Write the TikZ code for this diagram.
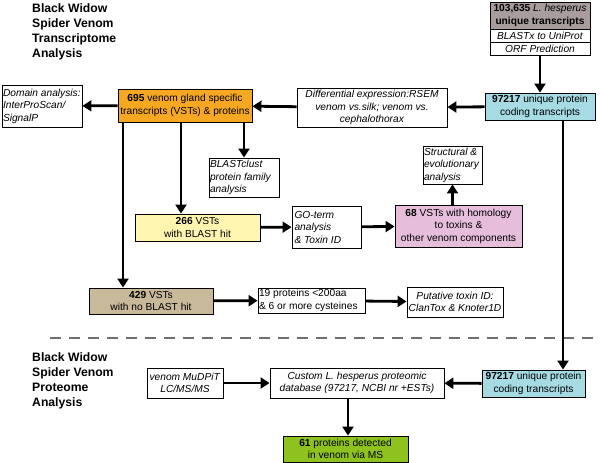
\documentclass[tikz,border=0pt]{standalone}
\usepackage{fontspec}
\setmainfont{Liberation Sans}
\usepackage{tikz}
\usetikzlibrary{arrows.meta}
\definecolor{greybox}{RGB}{168,156,156}
\definecolor{cyanbox}{RGB}{166,219,227}
\definecolor{orangebox}{RGB}{247,168,35}
\definecolor{yellowbox}{RGB}{255,244,176}
\definecolor{pinkbox}{RGB}{230,190,220}
\definecolor{tanbox}{RGB}{201,185,155}
\definecolor{greenbox}{RGB}{141,194,31}
\definecolor{dashgrey}{RGB}{110,110,110}

\begin{document}
\begin{tikzpicture}[x=1pt,y=-1pt,
    box/.style={draw,line width=0.9pt,inner sep=1pt,align=center,
        font=\fontsize{10.2}{12.5}\selectfont},
    lbox/.style={box,align=flush left},
    arr/.style={line width=2.8pt,-{Triangle[length=9pt,width=11pt]}},
    ttl/.style={anchor=north west,align=left,inner sep=0pt,
        font=\fontsize{12.2}{15}\selectfont\bfseries}]
                \useasboundingbox (0,0) rectangle (600,463);
                % titles
                \node[ttl] (ttltrans) at (32,3) {Black Widow\\Spider Venom\\Transcriptome\\Analysis};
                \node[ttl] (ttlprot) at (32,352) {Black Widow\\Spider Venom\\Proteome\\Analysis};
                % transcriptome boxes
                \node[box,fill=greybox,minimum width=100,minimum height=27] (raw) at (540,15.5) {\textbf{103,635} \textit{L. hesperus}\\\textbf{unique transcripts}};
                \node[box,minimum width=100,minimum height=13] (blastx) at (540,35.5) {\textit{BLASTx to UniProt}};
                \node[box,minimum width=100,minimum height=13] (orf) at (540,48.5) {\textit{ORF Prediction}};
                \node[box,fill=cyanbox,minimum width=110,minimum height=27] (prot) at (540,106.5) {\textbf{97217} unique protein\\coding transcripts};
                \node[box,minimum width=150,minimum height=39] (diff) at (372,107.5) {\textit{Differential expression:RSEM}\\\textit{venom vs.silk; venom vs.}\\\textit{cephalothorax}};
                \node[box,fill=orangebox,minimum width=134,minimum height=33] (vst) at (185,105.5) {\textbf{695} venom gland specific\\transcripts (VSTs) \& proteins};
                \node[lbox,minimum width=80,minimum height=42,text width=78,inner sep=0.8pt] (domain) at (42,106) {\textit{Domain analysis:}\\\textit{InterProScan/}\\\textit{SignalP}};
                \node[lbox,minimum width=70,minimum height=39,text width=68] (clust) at (244,177.5) {\textit{BLASTclust}\\\textit{protein family}\\\textit{analysis}};
                \node[box,fill=yellowbox,minimum width=125,minimum height=27] (hit) at (197.5,227.5) {\textbf{266} VSTs\\with BLAST hit};
                \node[lbox,minimum width=69,minimum height=42,text width=64] (goterm) at (326.5,227) {\textit{GO-term}\\\textit{analysis}\\\textit{\& Toxin ID}};
                \node[box,fill=pinkbox,minimum width=127,minimum height=42] (homol) at (458.5,226) {\textbf{68} VSTs with homology\\to toxins \&\\other venom components};
                \node[lbox,minimum width=59,minimum height=38,text width=57] (struct) at (452.5,165) {\textit{Structural \&}\\\textit{evolutionary}\\\textit{analysis}};
                \node[box,fill=tanbox,minimum width=124,minimum height=26] (nohit) at (151,301) {\textbf{429} VSTs\\with no BLAST hit};
                \node[lbox,minimum width=107,minimum height=25,text width=105] (cys) at (311.5,300.5) {19 proteins <200aa\\\& 6 or more cysteines};
                \node[box,minimum width=96,minimum height=30] (toxid) at (455,302) {\textit{Putative toxin ID:}\\\textit{ClanTox \& Knoter1D}};
                % proteome boxes
                \node[box,fill=cyanbox,minimum width=103,minimum height=27] (prot2) at (533.5,383.5) {\textbf{97217} unique protein\\coding transcripts};
                \node[box,minimum width=76,minimum height=30] (mudpit) at (185,383) {\textit{venom MuDPiT}\\\textit{LC/MS/MS}};
                \node[box,minimum width=174,minimum height=30] (custom) at (357,383) {\textit{Custom L. hesperus proteomic}\\\textit{database (97217, NCBI nr +ESTs)}};
                \node[box,fill=greenbox,minimum width=125,minimum height=26] (detect) at (345.5,449) {\textbf{61} proteins detected\\in venom via MS};
                \coordinate (split) at (563,0);
                \coordinate (dashl) at (50,338);
                \coordinate (dashr) at (600,338);

                \draw[dashgrey,line width=1.3pt,dash pattern=on 11pt off 8pt] (dashl) -- (dashr);
                \draw[arr] (orf) -- (prot);
                \draw[arr] (prot) -- (diff);
                \draw[arr] (diff) -- (vst);
                \draw[arr] (vst) -- (domain);
                \draw[arr] (vst.south -| clust.north) -- (clust.north);
                \draw[arr] (vst.south -| 181,0) -- (hit.north -| 181,0);
                \draw[arr] (vst.south -| 123,0) -- (nohit.north -| 123,0);
                \draw[arr] (hit) -- (goterm);
                \draw[arr] (goterm) -- (homol);
                \draw[arr] (homol.north -| struct.south) -- (struct.south);
                \draw[arr] (nohit) -- (cys);
                \draw[arr] (cys) -- (toxid);
                \draw[arr] (prot.south -| split) -- (prot2.north -| split);
                \draw[arr] (prot2) -- (custom);
                \draw[arr] (mudpit) -- (custom);
                \draw[arr] (custom.south -| 348,0) -- (detect.north -| 348,0);
\end{tikzpicture}
\end{document}
